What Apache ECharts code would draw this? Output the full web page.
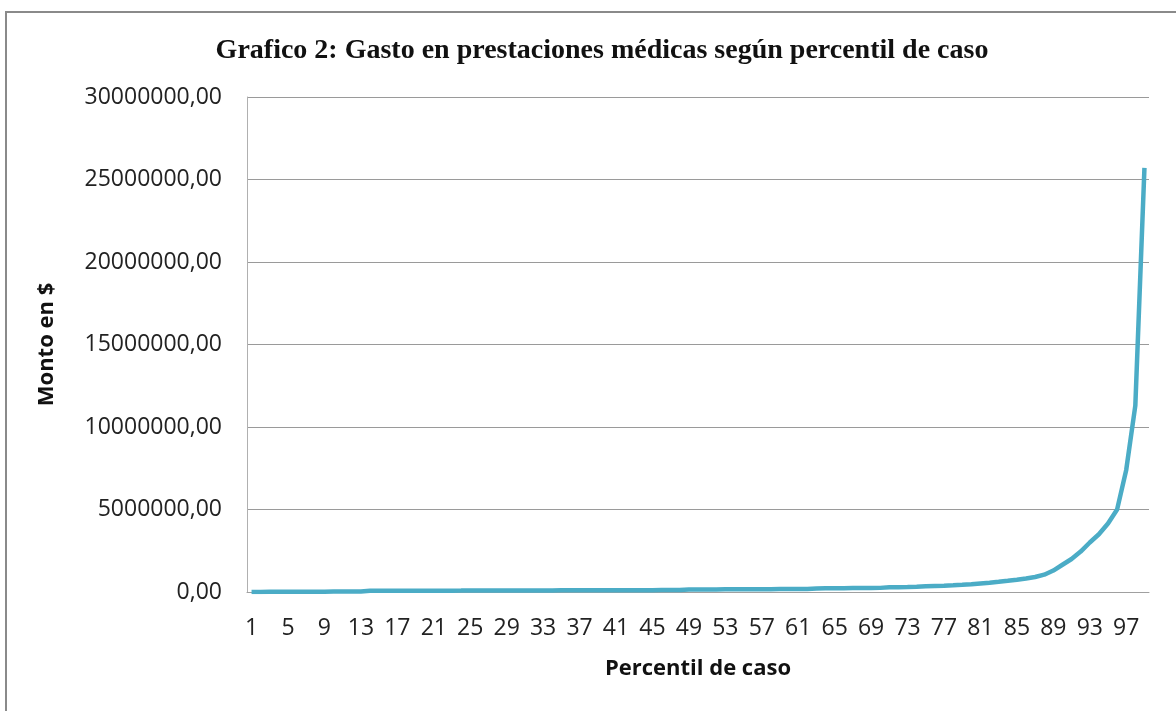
<!DOCTYPE html>
<html>
<head>
<meta charset="UTF-8">
<title>Gasto en prestaciones médicas</title>
<style>
  html, body { margin: 0; padding: 0; background: #fff; }
  #container { width: 1176px; height: 711px; }
</style>
</head>
<body>
<div id="container"></div>
<script src="https://cdn.jsdelivr.net/npm/echarts@6/dist/echarts.min.js"></script>
<script>
// percentiles 1..99
var percentiles = [];
for (var p = 1; p <= 99; p++) percentiles.push(String(p));

// monto en $ por percentil
var pctl01a13 = [4000, 7000, 9000, 11000, 13000, 15000, 17000, 19000, 21000, 23000, 25000, 27000, 30000];
var pctl14a48 = [70000, 72000, 74000, 75000, 76000, 78000, 79000, 80000, 82000, 83000,
                 84000, 86000, 87000, 88000, 90000, 91000, 92000, 94000, 95000, 96000,
                 98000, 99000, 100000, 102000, 103000, 104000, 106000, 107000, 108000, 110000,
                 111000, 112000, 114000, 115000, 117000];
var pctl49a62 = [150000, 152000, 155000, 157000, 160000, 162000, 165000, 167000, 170000, 172000,
                 175000, 178000, 180000, 183000];
var pctl63a70 = [215000, 220000, 225000, 230000, 235000, 240000, 245000, 250000];
var pctl71a99 = [285000, 295000, 305000, 320000, 345000, 365000, 385000, 410000, 440000, 475000,
                 520000, 565000, 620000, 680000, 745000, 820000, 910000, 1050000, 1300000, 1650000,
                 2000000, 2450000, 3000000, 3500000, 4150000, 5000000, 7400000, 11300000, 25700000];

var gasto = [].concat(pctl01a13, pctl14a48, pctl49a62, pctl63a70, pctl71a99);

var yTicks = { min: 0, max: 30000000, interval: 5000000 };

var myChart = echarts.init(document.getElementById('container'));
myChart.setOption({
    animation: false,
    title: {
        text: 'Grafico 2: Gasto en prestaciones médicas según percentil de caso',
        left: 597,
        textAlign: 'center',
        top: 32,
        textStyle: {
            fontFamily: 'Liberation Serif',
            fontWeight: 'bold',
            fontSize: 28,
            color: '#111'
        }
    },
    graphic: [{
        type: 'rect',
        shape: { x: 6, y: 12, width: 1300, height: 800 },
        style: { fill: 'none', stroke: '#8a8a8a', lineWidth: 2 },
        silent: true
    }],
    grid: {
        left: 247,
        top: 97,
        width: 902,
        height: 495
    },
    xAxis: {
        type: 'category',
        data: percentiles,
        boundaryGap: true,
        name: 'Percentil de caso',
        nameLocation: 'middle',
        nameGap: 66,
        nameTextStyle: {
            fontFamily: 'Open Sans',
            fontWeight: 'bold',
            fontSize: 22,
            color: '#111'
        },
        axisLine: { show: true, lineStyle: { color: '#a0a0a0', width: 1 } },
        axisTick: { show: false },
        axisLabel: {
            interval: 3,
            margin: 25,
            fontFamily: 'Open Sans',
            fontSize: 23,
            color: '#222'
        }
    },
    yAxis: {
        type: 'value',
        min: yTicks.min,
        max: yTicks.max,
        interval: yTicks.interval,
        name: 'Monto en $',
        nameLocation: 'middle',
        nameGap: 189,
        nameTextStyle: {
            fontFamily: 'Open Sans',
            fontWeight: 'bold',
            fontSize: 22,
            color: '#111'
        },
        axisLine: { show: true, lineStyle: { color: '#b0b0b0', width: 1 } },
        axisTick: { show: false },
        splitLine: { show: true, lineStyle: { color: '#9a9a9a', width: 1 } },
        axisLabel: {
            margin: 25,
            fontFamily: 'Open Sans',
            fontSize: 23,
            color: '#222',
            formatter: function (v) { return v + ',00'; }
        }
    },
    series: [{
        type: 'line',
        data: gasto,
        showSymbol: false,
        smooth: false,
        lineStyle: { color: '#4bacc6', width: 4.5 },
        itemStyle: { color: '#4bacc6' }
    }]
});
</script>
</body>
</html>
